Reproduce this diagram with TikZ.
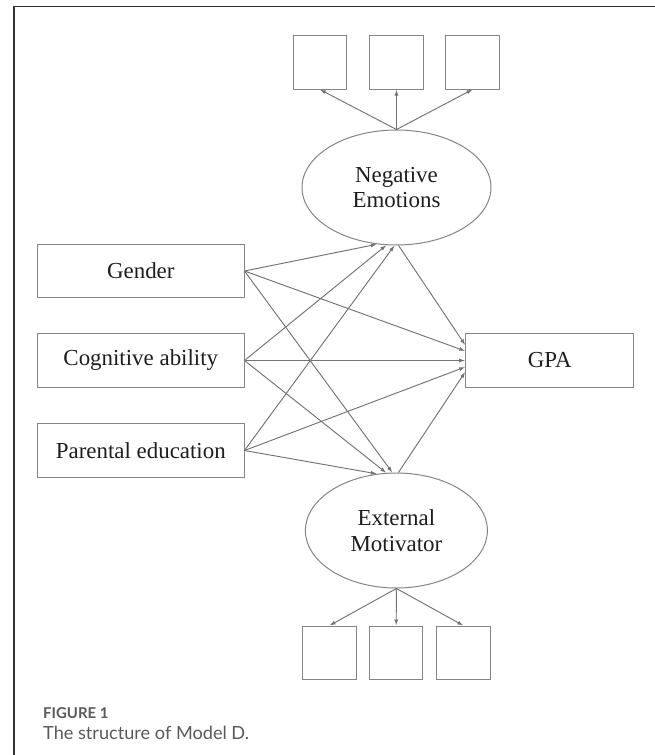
\documentclass[tikz,border=0pt]{standalone}
\usepackage{fontspec}
\setmainfont{Liberation Serif}
\newfontfamily\capfont{Lato}
\usetikzlibrary{shapes.geometric,arrows.meta,calc}
\definecolor{edgecol}{HTML}{747474}
\definecolor{boxline}{HTML}{858585}
\definecolor{framecol}{HTML}{333333}
\definecolor{captxt}{HTML}{5A5A5A}
\definecolor{nodetxt}{HTML}{1E1E1E}
\begin{document}
\begin{tikzpicture}[x=1bp,y=-1bp,
  var/.style={draw=boxline, line width=1bp, minimum width=206.4bp, minimum height=53.5bp, inner sep=0pt, text=nodetxt, font=\fontsize{23}{25}\selectfont},
  ind/.style={draw=boxline, line width=1bp, minimum width=53.5bp, minimum height=53bp, inner sep=0pt},
  lat/.style={ellipse, draw=boxline, line width=1bp, inner sep=0pt, align=center, text=nodetxt, font=\fontsize{23}{25.5}\selectfont},
  conn/.style={draw=edgecol, line width=0.95bp, -{Latex[length=6bp,width=4bp]}},
  capstyle/.style={anchor=west, inner sep=0pt, text=captxt},
]
\useasboundingbox (0,0) rectangle (655,755);
\fill[white] (0,0) rectangle (655,755);
\draw[framecol, line width=1.2bp] (14,755) -- (14,6.7) -- (655,6.7);

% top indicators
\node[ind] (t1) at (319.8,62.5) {};
\node[ind] (t2) at (396.5,62.5) {};
\node[ind] (t3) at (472.5,62.5) {};
% latent variables
\node[lat, minimum width=189bp, minimum height=115bp] (ne) at (396.5,187.5) {Negative\\Emotions};
\node[lat, minimum width=182bp, minimum height=115bp] (em) at (396.4,530.5) {External\\Motivator};
% observed variables
\node[var] (gen) at (140.8,271) {Gender};
\node[var] (cog) at (140.8,360.5) {Cognitive ability};
\node[var] (par) at (140.8,450.5) {Parental education};
\node[var, minimum width=168bp] (gpa) at (549.7,360.5) {GPA};
% bottom indicators
\node[ind] (b1) at (329.5,652.5) {};
\node[ind] (b2) at (396.2,652.5) {};
\node[ind] (b3) at (463.3,652.5) {};

% loadings
\draw[conn] (ne.north) -- (t1.south);
\draw[conn] (ne.north) -- (t2.south);
\draw[conn] (ne.north) -- (t3.south);
\draw[conn] (em.south) -- (b1.north);
\draw[conn] (em.south) -- (b2.north);
\draw[conn] (em.south) -- (b3.north);

% predictors -> Negative Emotions
\draw[conn] (gen.east) -- (ne.251);
\draw[conn] (cog.east) -- (ne.260);
\draw[conn] (par.east) -- (ne.268);
% predictors -> External Motivator
\draw[conn] (par.east) -- (em.109);
\draw[conn] (cog.east) -- (em.100);
\draw[conn] (gen.east) -- (em.94);
% -> GPA
\draw[conn] (ne.272) -- ($(gpa.west)+(0,-15.5)$);
\draw[conn] (gen.east) -- ($(gpa.west)+(0,-9.5)$);
\draw[conn] (cog.east) -- (gpa.west);
\draw[conn] (par.east) -- ($(gpa.west)+(0,6.5)$);
\draw[conn] (em.88) -- ($(gpa.west)+(0,11.5)$);

% caption
\node[capstyle, font=\capfont\bfseries\fontsize{15}{17}\selectfont] (fig) at (43,713) {FIGURE 1};
\node[capstyle, font=\capfont\fontsize{18.2}{21}\selectfont] (capt) at (43,732.5) {The structure of Model D.};
\end{tikzpicture}
\end{document}
